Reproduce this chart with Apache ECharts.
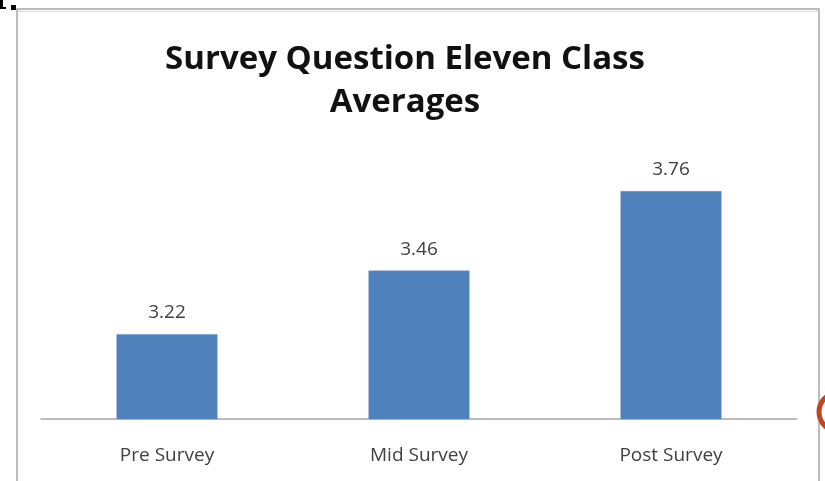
<!DOCTYPE html>
<html><head><meta charset="utf-8">
<script src="https://cdn.jsdelivr.net/npm/echarts@6/dist/echarts.min.js"></script>
<style>html,body{margin:0;padding:0;background:#fff}#c{width:825px;height:481px}</style>
</head><body><div id="c"></div>
<script>
const titleText = "Survey Question Eleven Class\nAverages";
const categories = ["Pre Survey", "Mid Survey", "Post Survey"];
const values = [3.22, 3.46, 3.76];

const chart = echarts.init(document.getElementById('c'));
chart.setOption({
  animation: false,
  backgroundColor: '#ffffff',
  title: {
    text: titleText,
    left: 400, top: 33, textAlign: 'center',
    textStyle: { fontFamily: 'Open Sans', fontWeight: 'bold', fontSize: 33, lineHeight: 43, color: '#111' }
  },
  graphic: [
    { type: 'rect', shape: { x: 17, y: 9, width: 802, height: 480 }, style: { fill: 'none', stroke: '#a6a6a6', lineWidth: 1.5 }, silent: true },
    { type: 'line', shape: { x1: 18, y1: 11.5, x2: 818, y2: 11.5 }, style: { stroke: '#d9d9d9', lineWidth: 1 }, silent: true },
    { type: 'rect', shape: { x: 11, y: 5, width: 5, height: 5 }, style: { fill: '#000' }, silent: true },
    { type: 'rect', shape: { x: 0, y: 0, width: 3, height: 9 }, style: { fill: '#000' }, silent: true },
    { type: 'rect', shape: { x: 0, y: 7, width: 6, height: 2 }, style: { fill: '#000' }, silent: true },
    { type: 'circle', shape: { cx: 838, cy: 412, r: 19 }, style: { fill: 'none', stroke: '#c0461f', lineWidth: 5 }, silent: true }
  ],
  grid: { left: 41, right: 28, top: 154, bottom: 62, containLabel: false },
  xAxis: {
    type: 'category', data: categories,
    axisLine: { lineStyle: { color: '#a6a6a6', width: 1.5 } },
    axisTick: { show: false },
    axisLabel: { margin: 27, fontFamily: 'Open Sans', fontSize: 19, color: '#404040' }
  },
  yAxis: {
    type: 'value', min: 2.9, max: 3.9, interval: 0.1,
    show: false, splitLine: { show: false }
  },
  series: [{
    type: 'bar', data: values, barWidth: 101,
    itemStyle: { color: '#4f81bd', borderColor: '#6b95c9', borderWidth: 0.5 },
    label: { show: true, position: 'top', distance: 12, fontFamily: 'Open Sans', fontSize: 19, color: '#404040', formatter: p => p.value.toFixed(2) }
  }]
});
</script></body></html>
